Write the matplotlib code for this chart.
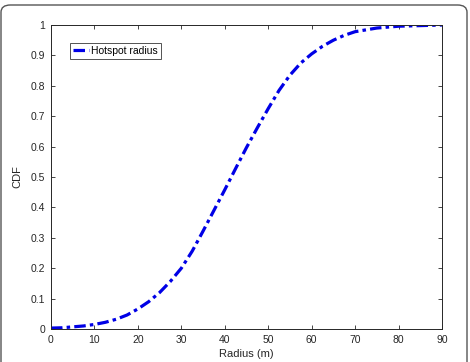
import numpy as np
import matplotlib.pyplot as plt
from matplotlib.patches import FancyBboxPatch

plt.rcParams['font.family'] = ['Liberation Sans', 'DejaVu Sans']

# values
radius = [0, 2.5, 5, 7.5, 10, 12.5, 15, 17.5, 20, 22.5, 25, 27.5, 30, 32.5, 35,
          37.5, 40, 42.5, 45, 47.5, 50, 52.5, 55, 57.5, 60, 62.5, 65, 67.5, 70,
          75, 80, 85, 90]
cdf = [0.003, 0.004, 0.007, 0.01, 0.015, 0.022, 0.032, 0.046, 0.066, 0.09, 0.12,
       0.157, 0.2, 0.256, 0.322, 0.39, 0.458, 0.528, 0.597, 0.662, 0.725, 0.785,
       0.835, 0.875, 0.905, 0.93, 0.95, 0.966, 0.978, 0.99, 0.996, 0.998, 1.0]
xticks = list(range(0, 91, 10))
yticks = [0, 0.1, 0.2, 0.3, 0.4, 0.5, 0.6, 0.7, 0.8, 0.9, 1]
ytick_labels = ['0', '0.1', '0.2', '0.3', '0.4', '0.5', '0.6', '0.7', '0.8', '0.9', '1']

fig = plt.figure(figsize=(4.7, 3.62), dpi=100)

# rounded frame round the whole picture
frame = FancyBboxPatch((1 / 470, -10 / 362), 466 / 470, 367 / 362,
                       boxstyle='round,pad=0,rounding_size=0.02',
                       transform=fig.transFigure, fill=False,
                       edgecolor='#555555', linewidth=1.0)
fig.patches.append(frame)

ax = fig.add_axes([51 / 470, 33 / 362, 391 / 470, 304 / 362])
ax.plot(radius, cdf, color='#0000e6', linewidth=2.3,
        linestyle=(0, (3.6, 1.3, 1.1, 1.3)), label='Hotspot radius')

ax.set_xlim(0, 90)
ax.set_ylim(0, 1)
ax.set_xticks(xticks)
ax.set_yticks(yticks)
ax.set_yticklabels(ytick_labels)
ax.tick_params(direction='in', top=True, right=True, length=3, width=0.6,
               labelsize=7.5, colors='#262626', pad=4)
for s in ax.spines.values():
    s.set_linewidth(0.7)
    s.set_color('#262626')

ax.set_xlabel('Radius (m)', fontsize=8, color='#262626', labelpad=3)
ax.set_ylabel('CDF', fontsize=8, color='#262626', labelpad=6)

leg = ax.legend(loc='upper left', bbox_to_anchor=(0.0486, 0.941),
                fontsize=7.5, handlelength=1.5, handletextpad=0.2,
                borderpad=0.3, borderaxespad=0, fancybox=False)
leg.get_frame().set_edgecolor('#262626')
leg.get_frame().set_linewidth(0.7)

fig.savefig('out.png', dpi=100)
